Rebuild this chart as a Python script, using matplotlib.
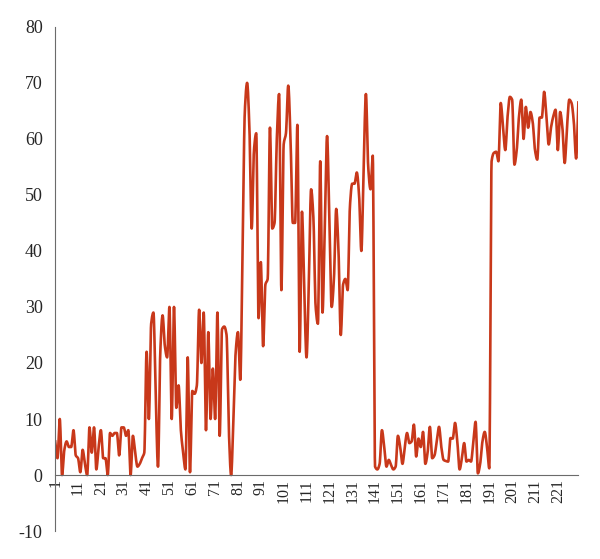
import numpy as np
import matplotlib
matplotlib.use("Agg")
import matplotlib.pyplot as plt

# values, one per category 1..230
seg_a = [6, 3, 10, 0, 4.5, 6, 5, 5, 8, 3.5,
         3, 0.5, 4.5, 2, 0, 8.5, 4, 8.5, 1, 5,
         8, 3, 3, 0, 7.5, 7, 7.5, 7.5, 3.5, 8.5,
         8.5, 7, 8, 0, 7, 4, 1.5, 2, 3, 4]
seg_b = [22, 10, 27, 29, 14, 1.5, 22, 28.5, 23, 21,
         30, 10, 30, 12, 16, 8, 4, 1, 21, 0.5,
         15, 14.5, 16, 29.5, 20, 29, 8, 25.5, 10, 19,
         10, 29, 7, 26, 26.5, 25, 8, 0, 10, 22,
         25.5, 17]
seg_c = [40, 65, 70, 62, 44, 58, 61, 28, 38, 23,
         34, 35, 62, 44, 45, 60, 68, 33, 59, 61,
         69.5, 60, 45, 45, 62.5, 22, 47, 33, 21, 34,
         51, 46, 30, 27, 56, 29, 45, 60.5, 45, 30,
         35, 47.5, 40, 25, 34, 35, 33, 48, 52, 52,
         54, 50, 40, 55, 68, 55, 51, 57]
seg_d = [1.5, 1, 2, 8, 5, 1.5, 2.7, 1.8, 1, 1.5,
         7, 5, 2, 5, 7.5, 5.7, 6, 9, 3.3, 6.5,
         5, 7.7, 2, 4, 8.6, 3, 3.5, 6, 8.6, 5,
         2.7, 2.5, 2.4, 6.6, 6.5, 9.3, 6, 1, 3, 5.7,
         2.4, 2.7, 2.4, 6, 9.5, 0.3, 2, 6, 7.7, 5,
         1.2]
seg_e = [56, 57.5, 57.7, 56, 66.4, 62, 58, 64, 67.5, 67,
         55.4, 58, 64, 67, 60, 65.7, 62, 64.8, 63, 58,
         56.3, 63.8, 63.8, 68.4, 64, 59, 62, 64, 65.2, 58,
         64.8, 62, 55.7, 62, 67, 66.4, 63, 56.5, 66.5]

values = np.array(seg_a + seg_b + seg_c + seg_d + seg_e, dtype=float)
cats = np.arange(1, len(values) + 1)
tick_cats = list(range(1, 222, 10))


def smooth(x, y, n=10):
    # monotone cubic through the points, so the curve does not overshoot
    d = np.diff(y)
    m = np.zeros_like(y)
    for i in range(1, len(y) - 1):
        if d[i - 1] * d[i] > 0:
            m[i] = 2 / (1 / d[i - 1] + 1 / d[i])
    m[0], m[-1] = d[0], d[-1]
    t = np.linspace(0, 1, n, endpoint=False)
    h00 = 2 * t**3 - 3 * t**2 + 1
    h10 = t**3 - 2 * t**2 + t
    h01 = -2 * t**3 + 3 * t**2
    h11 = t**3 - t**2
    xs, ys = [], []
    for i in range(len(y) - 1):
        ys.append(h00 * y[i] + h10 * m[i] + h01 * y[i + 1] + h11 * m[i + 1])
        xs.append(x[i] + t * (x[i + 1] - x[i]))
    xs.append([x[-1]])
    ys.append([y[-1]])
    return np.concatenate(xs), np.concatenate(ys)


plt.rcParams['font.family'] = ['Liberation Serif', 'DejaVu Serif']
plt.rcParams['axes.unicode_minus'] = False

fig = plt.figure(figsize=(6, 5.59), dpi=100)
ax = fig.add_axes([0.092, 0.05, 0.872, 0.902])

sx, sy = smooth(cats, values)
ax.plot(sx, sy, color='#C8381A', lw=1.9, solid_joinstyle='round')

ax.set_xlim(1, len(values))
ax.set_ylim(-10, 80)
ax.set_yticks(range(-10, 81, 10))
ax.set_xticks(tick_cats)
ax.set_xticklabels([str(c) for c in tick_cats])

for s in ['top', 'right']:
    ax.spines[s].set_visible(False)
ax.spines['bottom'].set_position(('data', 0))
ax.spines['bottom'].set_color('#6b6b6b')
ax.spines['left'].set_color('#6b6b6b')

ax.tick_params(axis='y', length=0, pad=9, labelsize=13, labelcolor='#262626')
ax.tick_params(axis='x', length=0, pad=3, labelsize=11.5, labelcolor='#262626',
               labelrotation=90)

fig.savefig('out.png', dpi=100)
